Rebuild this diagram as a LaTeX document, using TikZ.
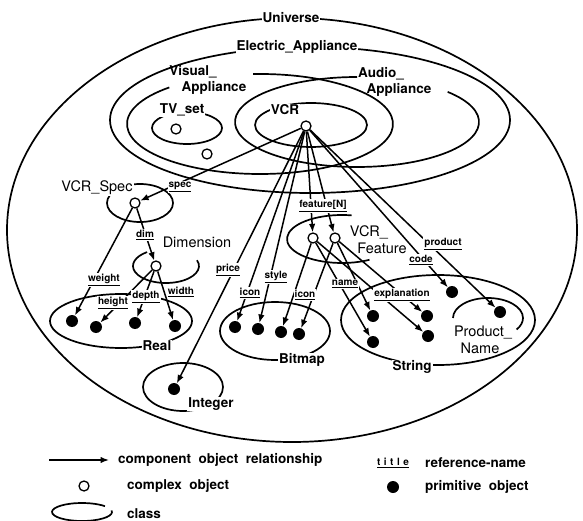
\documentclass[tikz,border=0pt]{standalone}
\usepackage{fontspec}
\setmainfont{TeX Gyre Heros}
\usetikzlibrary{arrows.meta}
\begin{document}
\begin{tikzpicture}[x=1pt,y=-1pt,
  cls/.style={line width=1.7pt},
  cplx/.style={circle,draw,line width=1.3pt,minimum size=10pt,inner sep=0pt,fill=white},
  prim/.style={circle,fill=black,minimum size=12pt,inner sep=0pt},
  rel/.style={line width=1.5pt,-{Latex[length=8.5pt,width=6.5pt]}},
  rn/.style={font=\bfseries\fontsize{10}{11}\selectfont,fill=white,inner sep=1pt},
  clab/.style={font=\bfseries\fontsize{13.5}{15}\selectfont,inner sep=1pt},
  clabw/.style={clab,fill=white},
  blab/.style={font=\fontsize{14.5}{16}\selectfont,inner sep=1pt},
  leg/.style={font=\bfseries\fontsize{13.5}{15}\selectfont,inner sep=0pt,anchor=west}]
\useasboundingbox (0,0) rectangle (583,521);
% ---------- classes ----------
\draw[cls] (292,230) ellipse [x radius=285,y radius=212];
\node[clabw] (lUniv) at (291,18) {Universe};
\draw[cls] (310,120) ellipse [x radius=200,y radius=73];
\node[clabw] (lEA) at (297,47) {Electric\_Appliance};
\draw[cls] (260,124) ++(-93:133 and 50) arc[start angle=-93,end angle=227,x radius=133,y radius=50];
\node[clab] (lVA1) at (193,72) {Visual\_};
\node[clab] (lVA2) at (214,88) {Appliance};
\draw[cls] (357,122) ++(-42:122 and 45) arc[start angle=-42,end angle=270,x radius=122,y radius=45];
\node[clab] (lAA1) at (381,74) {Audio\_};
\node[clab] (lAA2) at (399,90) {Appliance};
\draw[cls] (187,128) ellipse [x radius=35,y radius=16];
\node[clabw] (lTV) at (182,110) {TV\_set};
\draw[cls] (311,125) ellipse [x radius=56,y radius=22];
\node[clabw] (lVCR) at (285,110) {VCR};
\draw[cls] (140,203) ellipse [x radius=33,y radius=19];
\node[blab,fill=white] (lSpec) at (97,188) {VCR\_Spec};
\draw[cls] (166,266) ++(-20:33 and 17) arc[start angle=-20,end angle=235,x radius=33,y radius=17];
\node[blab] (lDim) at (197,242) {Dimension};
\draw[cls] (121,321) ellipse [x radius=71,y radius=27];
\node[clabw] (lReal) at (157,346) {Real};
\draw[cls] (275,331) ellipse [x radius=55,y radius=29];
\node[clabw] (lBit) at (302,360) {Bitmap};
\draw[cls] (183,387) ellipse [x radius=40,y radius=24];
\node[clabw] (lInt) at (211,404) {Integer};
\draw[cls] (438,320) ellipse [x radius=97,y radius=45];
\node[clabw] (lStr) at (412,367) {String};
\draw[cls] (488,318) ++(180:35 and 20) arc[start angle=180,end angle=395,x radius=35,y radius=20];
\node[blab] (lPN1) at (483,332) {Product\_};
\node[blab] (lPN2) at (480,348) {Name};
\draw[cls] (342,239) ++(60:55 and 24) arc[start angle=60,end angle=280,x radius=55,y radius=24];
\node[blab] (lVF1) at (369,232) {VCR\_};
\node[blab] (lVF2) at (382,248) {Feature};
% ---------- objects ----------
\node[cplx] (vcr) at (306,126) {};
\node[cplx] (tv) at (176,129) {};
\node[cplx] (va) at (207,154) {};
\node[cplx] (spec) at (135,203) {};
\node[cplx] (dimo) at (156,266) {};
\node[cplx] (f1) at (313,238) {};
\node[cplx] (f2) at (335,238) {};
\node[prim] (rw) at (72,321) {};
\node[prim] (rh) at (96,327) {};
\node[prim] (rd) at (135,323) {};
\node[prim] (rwi) at (175,326) {};
\node[prim] (ip) at (174,389) {};
\node[prim] (b1) at (235,327) {};
\node[prim] (b2) at (258,329) {};
\node[prim] (b3) at (281,332) {};
\node[prim] (b4) at (299,334) {};
\node[prim] (s1) at (373,316) {};
\node[prim] (s2) at (373,342) {};
\node[prim] (s3) at (427,316) {};
\node[prim] (s4) at (428,336) {};
\node[prim] (cp) at (452,292) {};
\node[prim] (pp) at (500,312) {};
% ---------- relationships ----------
\draw[rel] (vcr) -- (spec);
\draw[rel] (vcr) -- (ip);
\draw[rel] (vcr) -- (b1);
\draw[rel] (vcr) -- (b2);
\draw[rel] (vcr) -- (f1);
\draw[rel] (vcr) -- (f2);
\draw[rel] (vcr) -- (cp);
\draw[rel] (vcr) -- (pp);
\draw[rel] (spec) -- (dimo);
\draw[rel] (spec) -- (rw);
\draw[rel] (dimo) -- (rh);
\draw[rel] (dimo) -- (rd);
\draw[rel] (dimo) -- (rwi);
\draw[rel] (f1) -- (b3);
\draw[rel] (f2) -- (b4);
\draw[rel] (f1) -- (s2);
\draw[rel] (f2) -- (s1);
\draw[rel] (f1) -- (s4);
\draw[rel] (f2) -- (s3);
% ---------- reference names ----------
\node[rn] (nspec) at (180,187) {\underline{spec}};
\node[rn] (ndim) at (145,235) {\underline{dim}};
\node[rn] (nweight) at (104,280) {\underline{weight}};
\node[rn] (nheight) at (113,303) {\underline{height}};
\node[rn] (ndepth) at (146,297) {\underline{depth}};
\node[rn] (nwidth) at (181,292) {\underline{width}};
\node[rn] (nprice) at (228,270) {\underline{price}};
\node[rn] (nicon1) at (250,293) {\underline{icon}};
\node[rn] (nstyle) at (276,277) {\underline{style}};
\node[rn] (nicon2) at (305,295) {\underline{icon}};
\node[rn] (nfeat) at (323,206) {\underline{feature[N]}};
\node[rn] (nname) at (345,284) {\underline{name}};
\node[rn] (nexpl) at (402,295) {\underline{explanation}};
\node[rn] (ncode) at (421,260) {\underline{code}};
\node[rn] (nprod) at (443,244) {\underline{product}};
% ---------- legend ----------
\coordinate (la1) at (49,460);
\coordinate (la2) at (109,460);
\draw[rel] (la1) -- (la2);
\node[leg] (lg1) at (118,460) {component\ \ object\ \ relationship};
\node[cplx] (lgc) at (84,486) {};
\node[leg] (lg2) at (127,486) {complex\ \ object};
\draw[cls] (82,512) ++(-10:30 and 9) arc[start angle=-10,end angle=320,x radius=30,y radius=9];
\node[leg] (lg3) at (127,514) {class};
\node[rn,fill=none] (lgt) at (393,463) {\underline{t\hspace{3.5pt}i\hspace{3.5pt}t\hspace{3.5pt}l\hspace{3.5pt}e}};
\node[leg] (lg4) at (425,463) {reference-name};
\node[prim] (lgp) at (393,487) {};
\node[leg] (lg5) at (425,487) {primitive\ \ object};
\end{tikzpicture}
\end{document}
